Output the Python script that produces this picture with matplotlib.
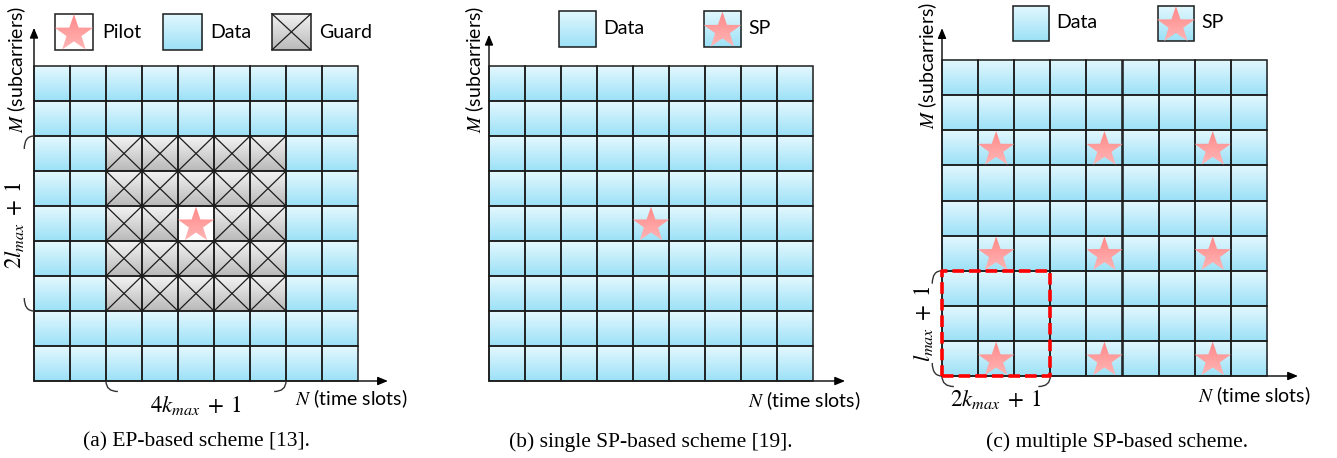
import numpy as np
import matplotlib
matplotlib.use("Agg")
import matplotlib.pyplot as plt
from matplotlib.colors import LinearSegmentedColormap
from matplotlib.patches import Rectangle, PathPatch
from matplotlib.path import Path

plt.rcParams['font.family'] = ['Lato', 'DejaVu Sans']
plt.rcParams['mathtext.fontset'] = 'stix'

# delay-Doppler grid
n_cols = 9
n_rows = 9

# (a) embedded pilot with guard area
guard_cols = [2, 3, 4, 5, 6]
guard_rows = [2, 3, 4, 5, 6]
pilot_a = (4, 4)

# (b) single superimposed pilot
sp_b = [(4, 4)]

# (c) multiple superimposed pilots
sp_c_cols = [1, 4, 7]
sp_c_rows = [0, 3, 6]
block_c = (3, 3)   # (2k_max+1) x (l_max+1)

legend_a = ['Pilot', 'Data', 'Guard']
legend_bc = ['Data', 'SP']
captions = ['(a) EP-based scheme [13].', '(b) single SP-based scheme [19].',
            '(c) multiple SP-based scheme.']
brace_labels = [(r'$2l_{max}\;+\;1$', r'$4k_{max}\;+\;1$'), (None, None),
                (r'$l_{max}\;+\;1$', r'$2k_{max}\;+\;1$')]

W, H = 1337, 458
fig = plt.figure(figsize=(W / 100, H / 100), dpi=100)

data_cmap = LinearSegmentedColormap.from_list('data', ['#e4f8fe', '#9ce1f7'])
guard_cmap = LinearSegmentedColormap.from_list('guard', ['#f3f3f3', '#b9b9b9'])
star_cmap = LinearSegmentedColormap.from_list('star', ['#ff8585', '#ffb8b8'])
white_cmap = LinearSegmentedColormap.from_list('white', ['white', 'white'])
grad = np.linspace(0, 1, 64).reshape(-1, 1)

LINE = '#1c1c1c'


def cell(ax, x, y, cmap, w=1.0, h=1.0, cross=False):
    ax.imshow(grad, cmap=cmap, extent=(x, x + w, y, y + h), aspect='auto',
              interpolation='bilinear', zorder=1)
    ax.add_patch(Rectangle((x, y), w, h, fill=False, ec=LINE, lw=1.1, zorder=3))
    if cross:
        ax.plot([x, x + w], [y, y + h], color=LINE, lw=0.9, zorder=3)
        ax.plot([x, x + w], [y + h, y], color=LINE, lw=0.9, zorder=3)


def star(ax, cx, cy, r):
    p = Path.unit_regular_star(5, 0.39)
    v = p.vertices * r + np.array([cx, cy - 0.095 * r])
    patch = PathPatch(Path(v, p.codes), fc='none', ec='none')
    ax.add_patch(patch)
    im = ax.imshow(grad, cmap=star_cmap, extent=(cx - r, cx + r, cy - r, cy + r),
                   aspect='auto', interpolation='bilinear', zorder=4)
    im.set_clip_path(patch)


def curve(ax, pts):
    path = Path(pts, [Path.MOVETO, Path.CURVE3, Path.CURVE3])
    ax.add_patch(PathPatch(path, fc='none', ec='#333333', lw=1.0, zorder=5))


def brace_h(ax, x0, x1, y, d=0.33, dy=0.3):
    curve(ax, [(x0, y), (x0, y - dy), (x0 + d, y - dy)])
    curve(ax, [(x1 - d, y - dy), (x1, y - dy), (x1, y)])


def brace_v(ax, y0, y1, x, d=0.27, dy=0.37):
    curve(ax, [(x, y1), (x - d, y1), (x - d, y1 - dy)])
    curve(ax, [(x - d, y0 + dy), (x - d, y0), (x, y0)])


def arrows(ax, top, right):
    style = dict(arrowstyle='-|>,head_length=0.6,head_width=0.25', color='black',
                 lw=1.0, shrinkA=0, shrinkB=0)
    ax.annotate('', xy=(0, top), xytext=(0, 0), arrowprops=style, zorder=2)
    ax.annotate('', xy=(right, 0), xytext=(0, 0), arrowprops=style, zorder=2)


# panel layout (pixel slices and grid origin / cell size)
panel_x = [(0, 445), (445, 890), (890, 1337)]
grid_geo = [(34, 381, 36.0, 35.0), (489, 381, 36.0, 35.0), (942, 376, 36.1, 35.1)]
axes = []
for (x0, x1), (gx, gy, cw, ch) in zip(panel_x, grid_geo):
    ax = fig.add_axes([x0 / W, 0, (x1 - x0) / W, 1])
    ax.axis('off')
    axes.append((ax, ((x0 - gx) / cw, (x1 - gx) / cw), ((gy - H) / ch, gy / ch)))

lab_fs = 14
leg_fs = 14
math_fs = 16.5
cap_fs = 15.5
R = 0.53

# ---------- (a) ----------
ax = axes[0][0]
arrows(ax, 10.09, 9.83)
for c in range(n_cols):
    for r in range(n_rows):
        if (c, r) == pilot_a:
            cell(ax, c, r, white_cmap)
        elif c in guard_cols and r in guard_rows:
            cell(ax, c, r, guard_cmap, cross=True)
        else:
            cell(ax, c, r, data_cmap)
star(ax, pilot_a[0] + 0.5, pilot_a[1] + 0.5, R)

lx = [0.58, 3.58, 6.61]
cell(ax, lx[0], 9.46, white_cmap, w=1.06, h=1.03)
star(ax, lx[0] + 0.53, 9.46 + 0.515, 0.56)
cell(ax, lx[1], 9.46, data_cmap, w=1.1, h=1.03)
cell(ax, lx[2], 9.46, guard_cmap, w=1.08, h=1.03, cross=True)
for x, t in zip(lx, legend_a):
    ax.text(x + 1.32, 9.97, t, fontsize=leg_fs, va='center', ha='left')

brace_v(ax, min(guard_rows), max(guard_rows) + 1, 0)
brace_h(ax, min(guard_cols), max(guard_cols) + 1, 0)
ax.text(-0.55, 4.45, brace_labels[0][0], fontsize=math_fs, rotation=90, ha='center', va='center')
ax.text(4.5, -0.7, brace_labels[0][1], fontsize=math_fs, ha='center', va='center')

# ---------- (b) ----------
ax = axes[1][0]
arrows(ax, 9.89, 9.89)
for c in range(n_cols):
    for r in range(n_rows):
        cell(ax, c, r, data_cmap)
for c, r in sp_b:
    star(ax, c + 0.5, r + 0.5, R)
lx = [1.94, 5.97]
cell(ax, lx[0], 9.54, data_cmap, w=1.03, h=1.03)
cell(ax, lx[1], 9.54, data_cmap, w=1.03, h=1.03)
star(ax, lx[1] + 0.515, 9.54 + 0.515, 0.55)
for x, t in zip(lx, legend_bc):
    ax.text(x + 1.24, 10.06, t, fontsize=leg_fs, va='center', ha='left')

# ---------- (c) ----------
ax = axes[2][0]
arrows(ax, 9.91, 9.86)
for c in range(n_cols):
    for r in range(n_rows):
        cell(ax, c, r, data_cmap)
for c in sp_c_cols:
    for r in sp_c_rows:
        star(ax, c + 0.5, r + 0.5, R)
ax.add_patch(Rectangle((0, 0), block_c[0], block_c[1], fill=False, ec='#ff0000', lw=2.6,
                       ls=(0, (3.2, 1.4)), joinstyle='round', zorder=6))
lx = [1.97, 5.98]
cell(ax, lx[0], 9.54, data_cmap, w=1.0, h=1.0)
cell(ax, lx[1], 9.54, data_cmap, w=1.0, h=1.0)
star(ax, lx[1] + 0.5, 9.54 + 0.5, 0.55)
for x, t in zip(lx, legend_bc):
    ax.text(x + 1.2, 10.06, t, fontsize=leg_fs, va='center', ha='left')
brace_v(ax, 0, block_c[1], 0)
brace_h(ax, 0, block_c[0], 0)
ax.text(-0.5, 1.5, brace_labels[2][0], fontsize=math_fs, rotation=90, ha='center', va='center')
ax.text(1.5, -0.68, brace_labels[2][1], fontsize=math_fs, ha='center', va='center')

# common labels
m_pos = [(-0.47, 8.9), (-0.39, 8.9), (-0.39, 8.86)]
n_pos = [(7.25, -0.51), (7.19, -0.57), (7.09, -0.57)]
cap_pos = [(4.5, -1.74), (4.5, -1.74), (4.85, -1.88)]
for i, (ax, xl, yl) in enumerate(axes):
    ax.text(*m_pos[i], r'$M$ (subcarriers)', fontsize=lab_fs, rotation=90, ha='center', va='center')
    ax.text(*n_pos[i], r'$N$ (time slots)', fontsize=lab_fs, ha='left', va='center')
    ax.text(*cap_pos[i], captions[i], fontsize=cap_fs, ha='center', va='center',
            family='Liberation Serif')
    ax.set_xlim(*xl)
    ax.set_ylim(*yl)

fig.savefig('out.png', dpi=100)
